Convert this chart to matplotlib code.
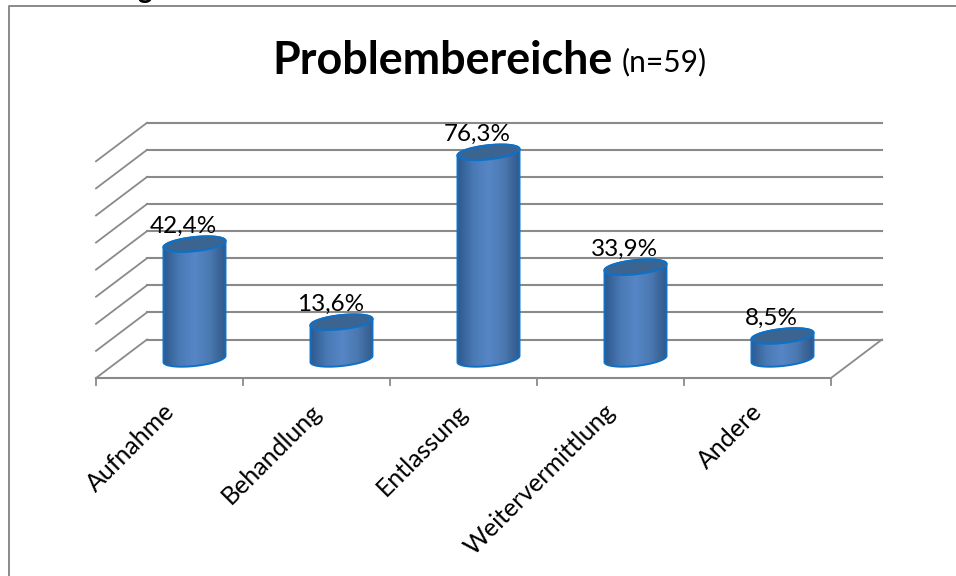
import numpy as np
import matplotlib
matplotlib.use('Agg')
import matplotlib.pyplot as plt
from matplotlib.colors import LinearSegmentedColormap
from matplotlib.patches import Polygon

categories = ['Aufnahme', 'Behandlung', 'Entlassung', 'Weitervermittlung', 'Andere']
values = [42.4, 13.6, 76.3, 33.9, 8.5]
value_labels = ['42,4%', '13,6%', '76,3%', '33,9%', '8,5%']
grid_levels = [0, 10, 20, 30, 40, 50, 60, 70, 80]

GREY = '#8a8a8a'
EDGE = '#0f70c4'
TOP = '#3b6491'
body_cmap = LinearSegmentedColormap.from_list(
    'body', ['#2f5a8f', '#4a7ab5', '#5686c6', '#4a78b0', '#32598a'])

plt.rcParams['font.family'] = ['Lato', 'DejaVu Sans']

W, H = 956, 576
X0, Y0 = 96, 378        # front left corner of the floor, pixels
PX_X, PX_Y = 147, 2.709  # pixels per category, pixels per percent
DEPTH_X, DEPTH_Y = 51 / PX_X, 38.5 / PX_Y

fig = plt.figure(figsize=(W / 100, H / 100), dpi=100)
ax = fig.add_axes([0, 0, 1, 1])
xlim = (-X0 / PX_X, (W - X0) / PX_X)
ylim = ((Y0 - H) / PX_Y, Y0 / PX_Y)
n = len(categories)

# walls and floor
for level in grid_levels:
    y = level + DEPTH_Y
    ax.plot([0, DEPTH_X], [level, y], color=GREY, lw=1.3, zorder=1)
    ax.plot([DEPTH_X, n + DEPTH_X], [y, y], color=GREY, lw=1.5, zorder=1)
ax.plot([n, n + DEPTH_X], [0, DEPTH_Y], color=GREY, lw=1.3, zorder=1)
ax.plot([0, n], [0, 0], color=GREY, lw=1.5, zorder=1)
for i in range(n + 1):
    ax.plot([i, i], [0, -7 / PX_Y], color=GREY, lw=1.3, zorder=1)

# cylinders
a = 31 / PX_X
b = 7.0 / PX_Y
shear = 3.2 / PX_Y
base = 19 / PX_Y
t = np.linspace(0, 2 * np.pi, 121)
t_low = np.linspace(np.pi, 2 * np.pi, 61)
t_up = np.linspace(0, np.pi, 61)
for i, v in enumerate(values):
    cx = i + 0.5 + DEPTH_X / 2 - 0.5 / PX_X
    top = base + v
    body = np.vstack([
        np.column_stack([cx + a * np.cos(t_low), base + b * np.sin(t_low) + shear * np.cos(t_low)]),
        np.column_stack([cx + a * np.cos(t_up), top + b * np.sin(t_up) + shear * np.cos(t_up)]),
    ])
    outline = Polygon(body, closed=True, fc='none', ec=EDGE, lw=1.4, zorder=3)
    ax.add_patch(outline)
    im = ax.imshow(np.linspace(0, 1, 64).reshape(1, -1), cmap=body_cmap, aspect='auto',
                   extent=(cx - a, cx + a, base - b, top + b), zorder=2)
    im.set_clip_path(Polygon(body, closed=True, transform=ax.transData))
    cap = np.column_stack([cx + a * np.cos(t), top + b * np.sin(t) + shear * np.cos(t)])
    ax.add_patch(Polygon(cap, closed=True, fc=TOP, ec=EDGE, lw=1.6, zorder=4))
    ax.text(cx - 11 / PX_X, top + 17.5 / PX_Y, value_labels[i], fontsize=17.5,
            ha='center', va='center', color='black', zorder=5)

# category labels
for i, name in enumerate(categories):
    ax.text(i + 0.5 + 1 / PX_X, -30 / PX_Y, name, fontsize=18, rotation=45,
            rotation_mode='anchor', ha='right', va='center', color='black')

ax.set_xlim(xlim)
ax.set_ylim(ylim)
ax.axis('off')

# chart area border, cut off by the page on the right and at the bottom
fig.add_artist(plt.Line2D([9 / W, 9 / W, 1], [0, 1 - 5.5 / H, 1 - 5.5 / H], color=GREY, lw=1.4))

fig.text(272 / W, 1 - 60.5 / H, 'Problembereiche', fontsize=32.3, fontweight='bold', ha='left', va='center')
fig.text(622 / W, 1 - 62 / H, '(n=59)', fontsize=21.5, ha='left', va='center')
# tail of the heading above the chart, cut off by the page as in the original
fig.text(145 / W, 1 + 2 / H, 'g', fontsize=20, fontweight='bold', ha='center', va='baseline')

fig.savefig('out.png', dpi=100)
